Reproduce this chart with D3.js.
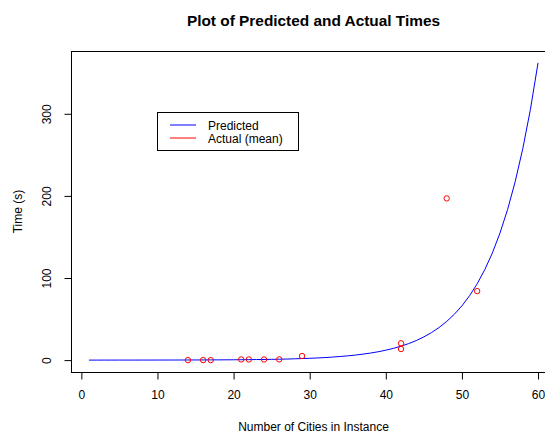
<!DOCTYPE html>
<html><head><meta charset="utf-8">
<script src="https://cdn.jsdelivr.net/npm/d3@7"></script>
<style>body{margin:0;background:#fff}svg{display:block}text{font-family:"Liberation Sans",Arial,sans-serif}</style>
</head><body>
<script>
// Predicted curve, read at each integer number of cities 1..60
const predX = [1,2,3,4,5,6,7,8,9,10,11,12,13,14,15,16,17,18,19,20,
               21,22,23,24,25,26,27,28,29,30,31,32,33,34,35,36,37,38,39,40,
               41,42,43,44,45,46,47,48,49,50,51,52,53,54,55,56,57,58,59,60];
const predY = [0.02,0.02,0.03,0.03,0.04,0.04,0.05,0.06,0.07,0.08,
               0.1,0.11,0.13,0.16,0.19,0.22,0.26,0.3,0.36,0.4,
               0.48,0.57,0.68,0.80,0.95,1.1,1.3,1.6,1.9,2.2,
               2.6,3.1,3.7,4.4,5.2,6.1,7.3,8.6,10.2,12.1,
               14.3,17.0,20.1,23.8,28.3,33.5,39.7,47.1,55.8,66.1,
               78.4,92.9,110.1,130.5,154.7,183.4,217.4,257.7,305.4,362.0];
// Actual (mean) observations
const actX = [14,16,17,21,22,24,26,29,42,42,48,52];
const actY = [0.0,0.0,0.0,0.8,0.8,0.8,0.9,5.0,20.5,13.5,197,84];
const xTicks = [0,10,20,30,40,50,60];
const yTicks = [0,100,200,300];

const W = 545, H = 434;
const svg = d3.select("body").append("svg").attr("width", W).attr("height", H);
const pL = 71, pR = 556, pT = 51, pB = 372;

const xr = d3.extent(predX), xs = xr[1]-xr[0];
const x = d3.scaleLinear().domain([xr[0]-0.04*xs, xr[1]+0.04*xs]).range([pL, pR]);
const yr = d3.extent(predY.concat(actY)), ys = yr[1]-yr[0];
const y = d3.scaleLinear().domain([yr[0]-0.04*ys, yr[1]+0.04*ys]).range([pB, pT]);

// box
svg.append("rect").attr("x", pL+0.5).attr("y", pT+0.5)
  .attr("width", pR-pL).attr("height", pB-pT)
  .attr("fill","none").attr("stroke","#000").attr("stroke-width",1);

// x axis
const xa = svg.append("g").attr("transform", `translate(0,${pB+0.5})`)
  .call(d3.axisBottom(x).tickValues(xTicks).tickSize(7).tickPadding(11).tickFormat(d3.format("d")));
xa.select(".domain").attr("d", `M${x(0)},0H${x(60)}`);
xa.selectAll("text").attr("font-size", 12).attr("fill","#000").attr("font-family","Liberation Sans, Arial");
xa.selectAll("line").attr("stroke","#000");

// y axis
const ya = svg.append("g").attr("transform", `translate(${pL+0.5},0)`)
  .call(d3.axisLeft(y).tickValues(yTicks).tickSize(7).tickFormat(d3.format("d")));
ya.select(".domain").attr("d", `M0,${y(0)}V${y(300)}`);
ya.selectAll("line").attr("stroke","#000");
ya.selectAll("text").attr("font-size", 12).attr("fill","#000").attr("font-family","Liberation Sans, Arial")
  .attr("x", null).attr("dy", null).attr("text-anchor","middle")
  .attr("transform", "translate(-21,0) rotate(-90)");

// predicted line
svg.append("path")
  .datum(predX.map((d,i)=>[d, predY[i]]))
  .attr("fill","none").attr("stroke","#0000ff").attr("stroke-width",1)
  .attr("d", d3.line().x(d=>x(d[0])).y(d=>y(d[1])));

// actual points
svg.append("g").selectAll("circle").data(actX.map((d,i)=>[d, actY[i]])).enter()
  .append("circle").attr("cx", d=>x(d[0])).attr("cy", d=>y(d[1])).attr("r", 2.7)
  .attr("fill","none").attr("stroke","#ff0000").attr("stroke-width",1);

// title & labels
svg.append("text").attr("x", (pL+pR)/2).attr("y", 25.5).attr("text-anchor","middle")
  .attr("font-size", 15.4).attr("font-weight","bold").text("Plot of Predicted and Actual Times");
svg.append("text").attr("x", (pL+pR)/2).attr("y", 431).attr("text-anchor","middle")
  .attr("font-size", 12).text("Number of Cities in Instance");
svg.append("text").attr("transform", `translate(22,${(pT+pB)/2}) rotate(-90)`).attr("text-anchor","middle")
  .attr("font-size", 12).text("Time (s)");

// legend
const lg = svg.append("g");
lg.append("rect").attr("x", 157.5).attr("y", 112.5).attr("width", 141).attr("height", 38)
  .attr("fill","#fff").attr("stroke","#000").attr("stroke-width",1);
const leg = [["Predicted","#0000ff"],["Actual (mean)","#ff0000"]];
leg.forEach((d,i)=>{
  const yy = 125 + i*13;
  lg.append("line").attr("x1",170).attr("x2",196).attr("y1",yy).attr("y2",yy)
    .attr("stroke",d[1]).attr("stroke-width",1);
  lg.append("text").attr("x",208).attr("y",yy+4.8).attr("font-size",12).text(d[0]);
});
</script>
</body></html>
